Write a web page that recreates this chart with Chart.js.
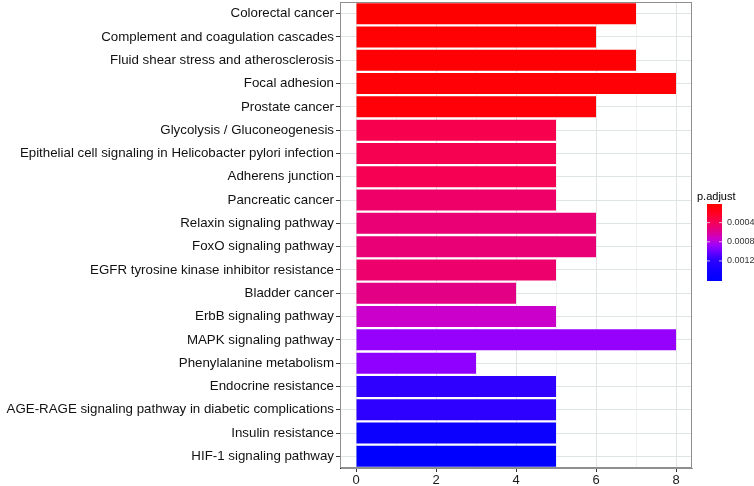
<!DOCTYPE html>
<html>
<head>
<meta charset="utf-8">
<script src="https://cdn.jsdelivr.net/npm/chart.js@4.4.0/dist/chart.umd.min.js"></script>
<style>
  html, body { margin: 0; padding: 0; background: #fff; }
  #wrap { width: 754px; height: 486px; }
</style>
</head>
<body>
<div id="wrap"><canvas id="enrichChart"></canvas></div>
<script>
const pathways = [
    "Colorectal cancer",
    "Complement and coagulation cascades",
    "Fluid shear stress and atherosclerosis",
    "Focal adhesion",
    "Prostate cancer",
    "Glycolysis / Gluconeogenesis",
    "Epithelial cell signaling in Helicobacter pylori infection",
    "Adherens junction",
    "Pancreatic cancer",
    "Relaxin signaling pathway",
    "FoxO signaling pathway",
    "EGFR tyrosine kinase inhibitor resistance",
    "Bladder cancer",
    "ErbB signaling pathway",
    "MAPK signaling pathway",
    "Phenylalanine metabolism",
    "Endocrine resistance",
    "AGE-RAGE signaling pathway in diabetic complications",
    "Insulin resistance",
    "HIF-1 signaling pathway"
];
const geneCounts = [7, 6, 7, 8, 6, 5, 5, 5, 5, 6, 6, 5, 4, 5, 8, 3, 5, 5, 5, 5];
const pAdjust = [0.00001, 0.00003, 0.00004, 0.00005, 0.00006, 0.00036, 0.00037, 0.00038,
    0.00045, 0.00049, 0.00050, 0.00046, 0.00055, 0.00073, 0.00089, 0.00091,
    0.00117, 0.00119, 0.00146, 0.00162];
const xTicks = [0, 2, 4, 6, 8];
const legendTicks = [0.0004, 0.0008, 0.0012];

// colour ramp red -> blue, sampled from the original colourbar
const ramp = [
    [0.00, [255, 0, 0]],
    [0.12, [255, 0, 32]],
    [0.25, [244, 0, 94]],
    [0.35, [224, 0, 140]],
    [0.45, [202, 0, 205]],
    [0.55, [148, 0, 255]],
    [0.72, [48, 0, 255]],
    [0.88, [14, 0, 255]],
    [1.00, [0, 0, 255]]
];
const pMin = Math.min(...pAdjust);
const pMax = Math.max(...pAdjust);
function colourFor(p) {
    const t = Math.min(1, Math.max(0, (p - pMin) / (pMax - pMin)));
    let i = 0;
    while (i < ramp.length - 2 && t > ramp[i + 1][0]) i++;
    const [t0, c0] = ramp[i];
    const [t1, c1] = ramp[i + 1];
    const f = (t - t0) / (t1 - t0);
    const mix = k => Math.round(c0[k] + (c1[k] - c0[k]) * f);
    return `rgb(${mix(0)},${mix(1)},${mix(2)})`;
}

const panelAndLegend = {
    id: "panelAndLegend",
    afterDraw(chart) {
        const c = chart.ctx;
        const a = chart.chartArea;
        c.save();
        c.strokeStyle = "#8f8f8f";
        c.lineWidth = 1;
        c.strokeRect(a.left + 0.5, a.top + 0.5, a.right - a.left - 1, a.bottom - a.top - 1);

        // colourbar
        const bx = 707, bw = 15, top = 204, bottom = 281;
        for (let yy = top; yy < bottom; yy++) {
            const p = pMin + (pMax - pMin) * (yy - top + 0.5) / (bottom - top);
            c.fillStyle = colourFor(p);
            c.fillRect(bx, yy, bw, 1);
        }
        c.fillStyle = "#000";
        c.font = "11px 'Liberation Sans', Arial, sans-serif";
        c.textBaseline = "alphabetic";
        c.fillText("p.adjust", 697, 200);
        c.font = "9px 'Liberation Sans', Arial, sans-serif";
        c.fillStyle = "#333";
        c.textBaseline = "middle";
        legendTicks.forEach(v => {
            const yy = top + (v - pMin) / (pMax - pMin) * (bottom - top);
            c.strokeStyle = "rgba(255,255,255,0.7)";
            c.beginPath();
            c.moveTo(bx, yy); c.lineTo(bx + 3, yy);
            c.moveTo(bx + bw - 3, yy); c.lineTo(bx + bw, yy);
            c.stroke();
            c.fillText(v.toFixed(4), 727, yy);
        });
        c.restore();
    }
};

const ctx = document.getElementById("enrichChart").getContext("2d");
new Chart(ctx, {
    type: "bar",
    data: {
        labels: pathways,
        datasets: [{
            data: geneCounts,
            backgroundColor: pAdjust.map(colourFor),
            borderWidth: 0,
            categoryPercentage: 0.9,
            barPercentage: 1.0
        }]
    },
    options: {
        indexAxis: "y",
        responsive: true,
        maintainAspectRatio: false,
        animation: false,
        layout: { padding: { top: 2, right: 62, left: 0, bottom: 0 } },
        plugins: { legend: { display: false }, tooltip: { enabled: false } },
        scales: {
            x: {
                min: -0.4,
                max: 8.4,
                afterBuildTicks(scale) {
                    scale.ticks = [0, 1, 2, 3, 4, 5, 6, 7, 8].map(v => ({ value: v }));
                },
                afterFit(scale) { scale.height = 18; },
                ticks: {
                    autoSkip: false,
                    maxRotation: 0,
                    padding: 1,
                    color: "#1a1a1a",
                    font: { family: "'Liberation Sans', Arial, sans-serif", size: 13 },
                    callback: v => xTicks.includes(v) ? String(v) : ""
                },
                grid: {
                    color: c => (c.tick && c.tick.value % 2 === 0) ? "#dfe5e5" : "#eef2f2",
                    tickColor: c => (c.tick && c.tick.value % 2 === 0) ? "#333" : "rgba(0,0,0,0)",
                    tickLength: 4
                },
                border: { display: true, color: "#8f8f8f" }
            },
            y: {
                afterFit(scale) {
                    scale.width = 340;
                    scale.paddingTop = 0;
                    scale.paddingBottom = 0;
                },
                ticks: {
                    autoSkip: false,
                    padding: 2,
                    color: "#111",
                    font: { family: "'Liberation Sans', Arial, sans-serif", size: 13.3 }
                },
                grid: {
                    offset: false,
                    color: "#dfe5e5",
                    tickColor: "#333",
                    tickLength: 4
                },
                border: { display: true, color: "#333" }
            }
        }
    },
    plugins: [panelAndLegend]
});
</script>
</body>
</html>
